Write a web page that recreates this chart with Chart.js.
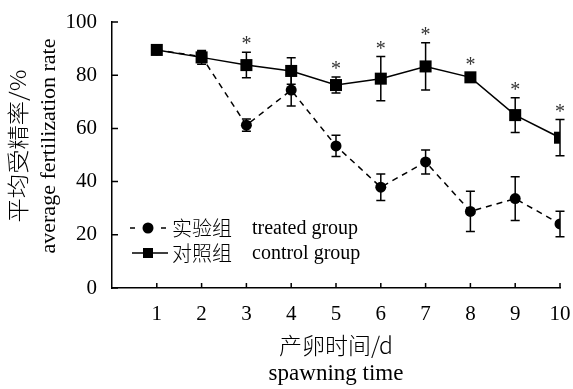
<!DOCTYPE html>
<html>
<head>
<meta charset="utf-8">
<script src="https://cdn.jsdelivr.net/npm/chart.js@4.4.0/dist/chart.umd.min.js"></script>
<style>
    html, body { margin: 0; padding: 0; background: #fff; }
    #wrap { width: 573px; height: 389px; }
</style>
</head>
<body>
<div id="wrap"><canvas id="chart" width="573" height="389"></canvas></div>
<script>
// spawning day
const days = [1, 2, 3, 4, 5, 6, 7, 8, 9, 10];

// treated group (实验组), mean and +/- error
const treated_mean = [89.5, 87, 61.2, 74.4, 53.4, 37.9, 47.4, 28.8, 33.6, 24.1];
const treated_err = [0.8, 2.0, 2.3, 6.0, 4.0, 5.0, 4.5, 7.6, 8.2, 4.8];

// control group (对照组), mean and +/- error
const control_mean = [89.5, 86.7, 83.8, 81.6, 76.3, 78.7, 83.3, 79.2, 65.0, 56.5];
const control_err = [0.8, 2.6, 4.8, 5.0, 3.0, 8.3, 8.9, 1.5, 6.5, 6.8];

// significant difference marks (*)
const significant = [false, false, true, false, true, true, true, true, true, true];

const y_ticks = [0, 20, 40, 60, 80, 100];

const SERIF = "'Liberation Serif', 'Times New Roman', 'Noto Sans CJK SC', serif";
const CJK = "'Noto Sans CJK SC', 'Liberation Serif', sans-serif";

function to_points(means) {
    return days.map((d, i) => ({ x: d, y: means[i] }));
}

// error bars go under the markers
const error_bars = {
    id: 'error_bars',
    beforeDatasetsDraw(chart) {
        const { ctx, scales: { x, y } } = chart;
        ctx.save();
        ctx.strokeStyle = '#000';
        ctx.lineWidth = 1.5;
        [[treated_mean, treated_err], [control_mean, control_err]].forEach(([m, e]) => {
            days.forEach((d, i) => {
                const px = x.getPixelForValue(d);
                const top = y.getPixelForValue(m[i] + e[i]);
                const bot = y.getPixelForValue(m[i] - e[i]);
                ctx.beginPath();
                ctx.moveTo(px, top); ctx.lineTo(px, bot);
                ctx.moveTo(px - 4.5, top); ctx.lineTo(px + 4.5, top);
                ctx.moveTo(px - 4.5, bot); ctx.lineTo(px + 4.5, bot);
                ctx.stroke();
            });
        });
        ctx.restore();
    }
};

// inward tick marks, titles, legend and the * marks
const decorations = {
    id: 'decorations',
    afterDraw(chart) {
        const { ctx, chartArea: area, scales: { x, y } } = chart;
        ctx.save();

        // ticks pointing into the plot
        ctx.strokeStyle = '#000';
        ctx.lineWidth = 1.5;
        ctx.beginPath();
        days.forEach((d) => {
            const px = x.getPixelForValue(d);
            ctx.moveTo(px, area.bottom);
            ctx.lineTo(px, area.bottom - 5);
        });
        y_ticks.forEach((v) => {
            const py = y.getPixelForValue(v);
            ctx.moveTo(area.left, py);
            ctx.lineTo(area.left + 6, py);
        });
        ctx.stroke();

        // significance asterisks
        ctx.fillStyle = '#333';
        ctx.font = '20px ' + SERIF;
        ctx.textAlign = 'center';
        ctx.textBaseline = 'alphabetic';
        days.forEach((d, i) => {
            if (!significant[i]) {
                return;
            }
            const px = x.getPixelForValue(d);
            const top = y.getPixelForValue(control_mean[i] + control_err[i]);
            ctx.fillText('*', px, top - 12 + 10);
        });

        // axis titles
        ctx.fillStyle = '#000';
        const mid_x = (area.left + area.right) / 2;
        ctx.textBaseline = 'middle';
        ctx.font = '300 23px ' + CJK;
        ctx.fillText('产卵时间/d', mid_x, 345);
        ctx.font = '23px ' + SERIF;
        ctx.fillText('spawning time', mid_x, 374);

        const mid_y = 146;
        ctx.save();
        ctx.translate(18, mid_y);
        ctx.rotate(-Math.PI / 2);
        ctx.font = '300 22px ' + CJK;
        let w = ctx.measureText('平均受精率/%').width;
        ctx.scale(153 / w, 1);
        ctx.fillText('平均受精率/%', 0, 0);
        ctx.restore();

        ctx.save();
        ctx.translate(49, mid_y);
        ctx.rotate(-Math.PI / 2);
        ctx.font = '22px ' + SERIF;
        w = ctx.measureText('average fertilization rate').width;
        ctx.scale(215 / w, 1);
        ctx.fillText('average fertilization rate', 0, 0);
        ctx.restore();

        // legend
        const row1 = 228, row2 = 253;
        ctx.lineWidth = 1.5;
        ctx.beginPath();
        ctx.moveTo(130, row1); ctx.lineTo(135, row1);
        ctx.moveTo(161, row1); ctx.lineTo(166, row1);
        ctx.moveTo(132, row2); ctx.lineTo(168, row2);
        ctx.stroke();
        ctx.beginPath();
        ctx.arc(148, row1, 5.5, 0, Math.PI * 2);
        ctx.fill();
        ctx.fillRect(143, row2 - 5, 10, 10);

        ctx.textAlign = 'left';
        ctx.font = '300 20px ' + CJK;
        ctx.fillText('实验组', 172, row1);
        ctx.fillText('对照组', 172, row2);
        ctx.font = '20px ' + SERIF;
        ctx.fillText('treated group', 252, row1 + 1);
        ctx.fillText('control group', 252, row2 + 1);

        ctx.restore();
    }
};

const chart = new Chart(document.getElementById('chart'), {
    type: 'line',
    data: {
        datasets: [
            {
                label: '对照组 control group',
                data: to_points(control_mean),
                order: 0,
                borderColor: '#000',
                backgroundColor: '#000',
                borderWidth: 1.5,
                pointStyle: 'rect',
                pointRadius: 8.5,
                pointBorderWidth: 0,
                tension: 0
            },
            {
                label: '实验组 treated group',
                data: to_points(treated_mean),
                order: 1,
                borderColor: '#000',
                backgroundColor: '#000',
                borderWidth: 1.5,
                borderDash: [6, 5],
                pointStyle: 'circle',
                pointRadius: 5.5,
                pointBorderWidth: 0,
                tension: 0
            }
        ]
    },
    options: {
        responsive: false,
        devicePixelRatio: 1,
        animation: false,
        layout: {
            padding: { top: 22, right: 13, left: 0, bottom: 0 }
        },
        plugins: {
            legend: { display: false },
            tooltip: { enabled: false },
            title: { display: false }
        },
        scales: {
            x: {
                type: 'linear',
                min: 0,
                max: 10,
                grid: { display: true, drawOnChartArea: false, drawTicks: false },
                border: { display: true, color: '#000', width: 1.5 },
                ticks: {
                    stepSize: 1,
                    autoSkip: false,
                    maxRotation: 0,
                    padding: 14,
                    color: '#000',
                    font: { family: SERIF, size: 21 },
                    callback: (v) => (v === 0 ? '' : v)
                },
                afterFit: (s) => {
                    s.height = 101;
                    s.paddingLeft = 0;
                    s.paddingRight = 0;
                }
            },
            y: {
                min: 0,
                max: 100,
                grid: { display: true, drawOnChartArea: false, drawTicks: false },
                border: { display: true, color: '#000', width: 1.5 },
                ticks: {
                    stepSize: 20,
                    padding: 15,
                    color: '#000',
                    font: { family: SERIF, size: 21 }
                },
                afterFit: (s) => {
                    s.width = 112;
                    s.paddingTop = 0;
                    s.paddingBottom = 0;
                }
            }
        }
    },
    plugins: [error_bars, decorations]
});
</script>
</body>
</html>
